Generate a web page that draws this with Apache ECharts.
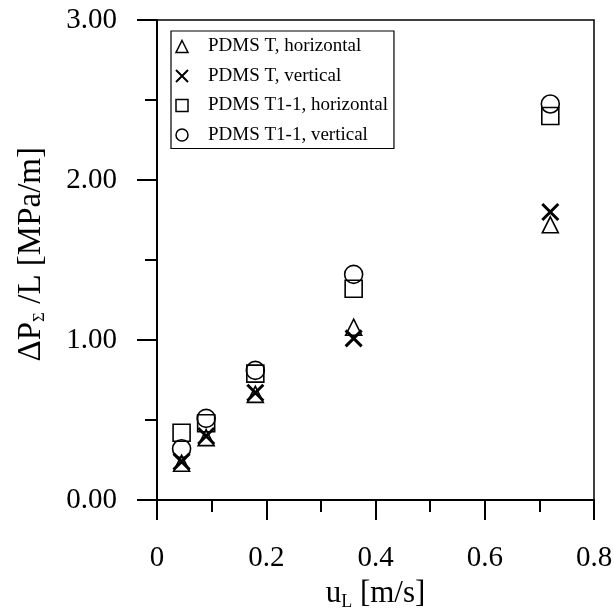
<!DOCTYPE html>
<html><head><meta charset="utf-8">
<script src="https://cdn.jsdelivr.net/npm/echarts@6/dist/echarts.min.js"></script>
<style>html,body{margin:0;padding:0;background:#fff}#c{width:614px;height:610px}</style>
</head><body><div id="c"></div>
<script>
const uL = [0.045, 0.09, 0.18, 0.36, 0.72];
const tHoriz = [0.23, 0.39, 0.66, 1.08, 1.72];
const tVert = [0.24, 0.40, 0.67, 1.01, 1.80];
const t11Horiz = [0.42, 0.48, 0.79, 1.32, 2.40];
const t11Vert = [0.32, 0.51, 0.81, 1.41, 2.475];
const names = ['PDMS T, horizontal', 'PDMS T, vertical', 'PDMS T1-1, horizontal', 'PDMS T1-1, vertical'];
const yTicks = ['0.00', '1.00', '2.00', '3.00'];

const FONT = '"Liberation Serif", "Times New Roman", serif';
const FS = 29;
const crossPath = 'path://M0,0L10,10M10,0L0,10';
const symbols = ['triangle', crossPath, 'rect', 'circle'];
const sizes = [16, 16, 17, 18];
const datasets = [tHoriz, tVert, t11Horiz, t11Vert];

const chart = echarts.init(document.getElementById('c'));
const series = datasets.map((d, i) => ({
  name: names[i],
  type: 'scatter',
  symbol: symbols[i],
  symbolSize: sizes[i],
  data: uL.map((x, k) => [x, d[k]]),
  itemStyle: { color: 'rgba(0,0,0,0)', borderColor: '#000', borderWidth: i === 1 ? 3 : 1.6, opacity: 1 },
  emphasis: { disabled: true },
  z: 10 - i
}));

chart.setOption({
  animation: false,
  backgroundColor: '#fff',
  grid: { left: 157, top: 20, right: 20, bottom: 110, outerBoundsMode: 'none', containLabel: false, show: true, borderColor: '#000', borderWidth: 1.5, backgroundColor: 'transparent' },
  legend: {
    orient: 'vertical', left: 171, top: 31,
    borderColor: '#000', borderWidth: 1.2,
    padding: [6, 6, 4, 4], itemGap: 10.5,
    itemWidth: 12, itemHeight: 12,
    textStyle: { fontFamily: FONT, fontSize: 19, color: '#000', padding: [0, 0, 0, 15] },
    data: names.map((n, i) => ({ name: n, icon: symbols[i], itemStyle: { color: 'rgba(0,0,0,0)', borderColor: '#000', borderWidth: i === 1 ? 2 : 1.5 } }))
  },
  xAxis: {
    type: 'value', min: 0, max: 0.8, interval: 0.2,
    name: '{m|u}{s|L}{m| [m/s]}', nameLocation: 'middle', nameGap: 75,
    nameTextStyle: { rich: { m: { fontFamily: FONT, fontSize: 31, color: '#000' }, s: { fontFamily: FONT, fontSize: 18, color: '#000', verticalAlign: 'bottom', padding: [18, 0, 0, 0] } } },
    axisLine: { show: true, lineStyle: { color: '#000', width: 2 } },
    axisTick: { show: true, inside: false, length: 20, lineStyle: { color: '#000', width: 2 } },
    minorTick: { show: true, splitNumber: 2, length: 12, lineStyle: { color: '#000', width: 2 } },
    splitLine: { show: false },
    axisLabel: { fontFamily: FONT, fontSize: FS, color: '#000', margin: 44, formatter: v => String(Math.round(v * 10) / 10) }
  },
  yAxis: {
    type: 'value', min: 0, max: 3, interval: 1,
    axisLine: { show: true, lineStyle: { color: '#000', width: 2 } },
    axisTick: { show: true, inside: false, length: 20, lineStyle: { color: '#000', width: 2 } },
    minorTick: { show: true, splitNumber: 2, length: 12, lineStyle: { color: '#000', width: 2 } },
    splitLine: { show: false },
    axisLabel: { fontFamily: FONT, fontSize: FS, color: '#000', margin: 40, formatter: v => yTicks[Math.round(v)] }
  },
  graphic: [{
    type: 'text', left: 15, top: 147, rotation: Math.PI / 2, originX: 0, originY: 0,
    style: {
      text: '{m|ΔP}{s|Σ}{m| /L [MPa/m]}',
      rich: { m: { fontFamily: FONT, fontSize: 33, fill: '#000' }, s: { fontFamily: FONT, fontSize: 17, fill: '#000', verticalAlign: 'bottom', padding: [17, 0, 0, 0] } }
    }
  }],
  series: series
});
</script>
</body></html>
